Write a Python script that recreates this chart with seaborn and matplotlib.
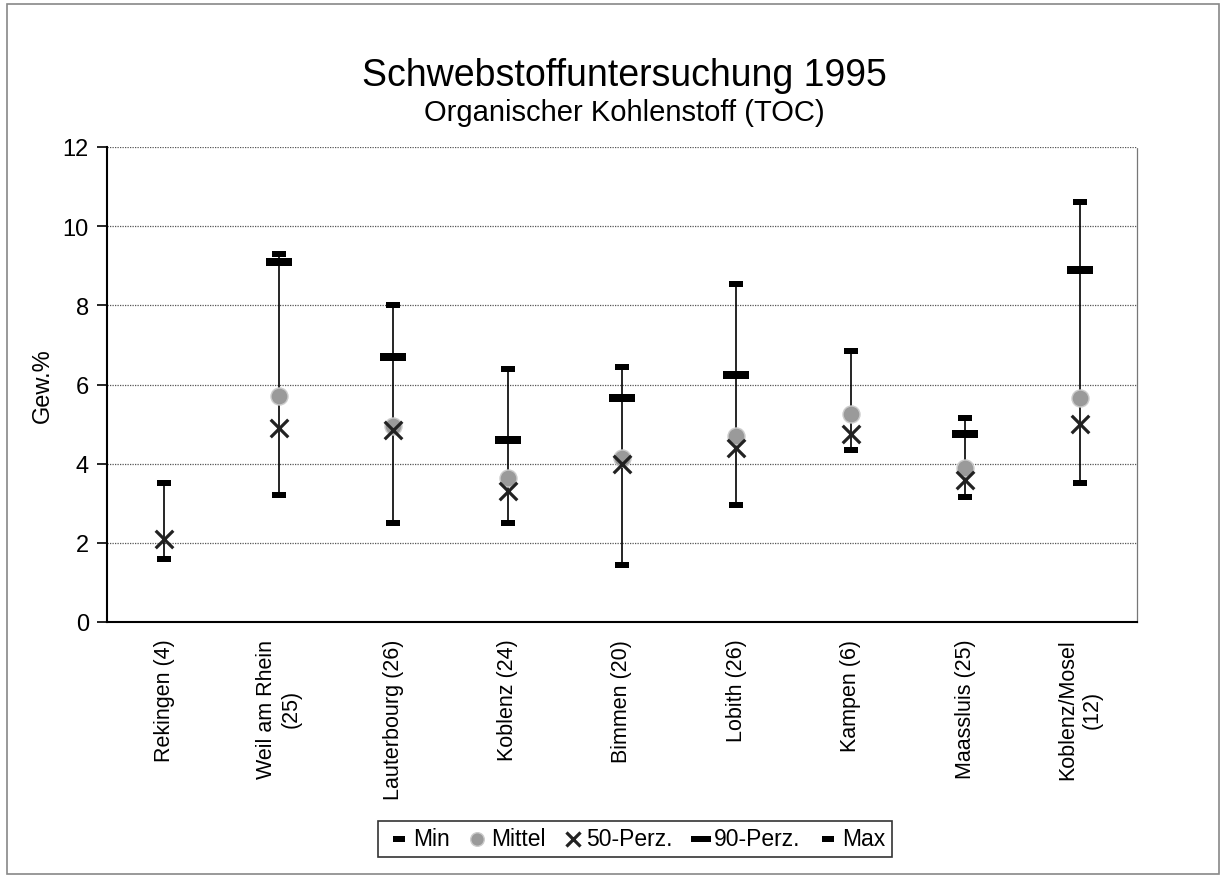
import numpy as np
import pandas as pd
import matplotlib
matplotlib.use('Agg')
import matplotlib.pyplot as plt
import seaborn as sns

# Messstellen (Anzahl Proben)
stellen = ['Rekingen (4)', 'Weil am Rhein\n(25)', 'Lauterbourg (26)', 'Koblenz (24)',
           'Bimmen (20)', 'Lobith (26)', 'Kampen (6)', 'Maassluis (25)', 'Koblenz/Mosel\n(12)']
minimum = [1.6, 3.2, 2.5, 2.5, 1.45, 2.95, 4.35, 3.15, 3.5]
mittel = [np.nan, 5.7, 4.95, 3.65, 4.15, 4.7, 5.25, 3.9, 5.65]
perz50 = [2.1, 4.9, 4.85, 3.3, 4.0, 4.4, 4.75, 3.6, 5.0]
perz90 = [np.nan, 9.1, 6.7, 4.6, 5.65, 6.25, np.nan, 4.75, 8.9]
maximum = [3.5, 9.3, 8.0, 6.4, 6.45, 8.55, 6.85, 5.15, 10.6]

df = pd.DataFrame({'pos': np.arange(len(stellen)), 'Min': minimum, 'Mittel': mittel,
                   '50-Perz.': perz50, '90-Perz.': perz90, 'Max': maximum})

sns.set_style('white')
plt.rcParams['font.family'] = ['Liberation Sans', 'DejaVu Sans']
plt.rcParams['text.color'] = 'black'
plt.rcParams['axes.labelcolor'] = 'black'
plt.rcParams['xtick.color'] = 'black'
plt.rcParams['ytick.color'] = 'black'

fig = plt.figure(figsize=(12.24, 8.79), dpi=100)
ax = fig.add_axes([107 / 1224, 1 - 623 / 879, 1030 / 1224, 475 / 879])

# Linie Min - Max
ax.vlines(df['pos'], df['Min'], df['Max'], color='black', linewidth=1.2, zorder=1)

strich_klein = [(-1, -0.45), (1, -0.45), (1, 0.45), (-1, 0.45)]
strich_gross = [(-1, -0.28), (1, -0.28), (1, 0.28), (-1, 0.28)]

sns.scatterplot(data=df, x='pos', y='Min', marker=strich_klein, s=110, color='black',
                linewidth=0, label='Min', ax=ax, zorder=3)
sns.scatterplot(data=df, x='pos', y='Mittel', marker='o', s=150, color='#9a9a9a',
                edgecolor='#cccccc', linewidth=1, label='Mittel', ax=ax, zorder=2)
sns.scatterplot(data=df, x='pos', y='50-Perz.', marker='x', s=160, color='#222222',
                linewidth=2.3, label='50-Perz.', ax=ax, zorder=3)
sns.scatterplot(data=df, x='pos', y='90-Perz.', marker=strich_gross, s=330, color='black',
                linewidth=0, label='90-Perz.', ax=ax, zorder=3)
sns.scatterplot(data=df, x='pos', y='Max', marker=strich_klein, s=110, color='black',
                linewidth=0, label='Max', ax=ax, zorder=3)

ax.set_xlim(-0.5, len(stellen) - 0.5)
ax.set_ylim(0, 12)
ax.set_yticks(range(0, 13, 2))
ax.set_xticks(df['pos'])
ax.set_xticklabels(stellen, rotation=90, fontsize=15.5, va='top', linespacing=1.25)
ax.set_xticks(np.arange(-0.5, len(stellen)), minor=True)
ax.tick_params(axis='x', which='major', length=0, pad=12)
ax.tick_params(axis='x', which='minor', length=14, direction='inout', width=1.2, color='black')
ax.tick_params(axis='y', labelsize=17, length=7, width=1.2, direction='out', color='black',
               left=True, pad=6)

ax.grid(axis='y', linestyle=(0, (1, 1)), color='#555555', linewidth=0.9)
ax.set_axisbelow(True)
for s in ['left', 'bottom']:
    ax.spines[s].set_color('black')
    ax.spines[s].set_linewidth(1.5)
ax.spines['top'].set_visible(False)
ax.spines['right'].set_color('#777777')
ax.spines['right'].set_linestyle((0, (1, 1)))
ax.spines['right'].set_linewidth(0.9)

ax.set_xlabel('')
ax.set_ylabel('Gew.%', fontsize=17, labelpad=6)

fig.text(0.51, 0.913, 'Schwebstoffuntersuchung 1995', ha='center', va='center', fontsize=27)
fig.text(0.51, 0.871, 'Organischer Kohlenstoff (TOC)', ha='center', va='center', fontsize=21)

leg = ax.legend(loc='center', bbox_to_anchor=(0.519, 1 - 840 / 879), bbox_transform=fig.transFigure,
                ncol=5, fontsize=16.5, frameon=True, fancybox=False, edgecolor='black',
                handletextpad=0.0, columnspacing=0.6, borderpad=0.3, handlelength=1.2,
                markerscale=0.8)
leg.get_frame().set_linewidth(1.2)

fig.patches.append(plt.Rectangle((0.006, 0.004), 0.99, 0.99, transform=fig.transFigure,
                                 fill=False, edgecolor='#888888', linewidth=1.2))

fig.savefig('out.png', dpi=100)
